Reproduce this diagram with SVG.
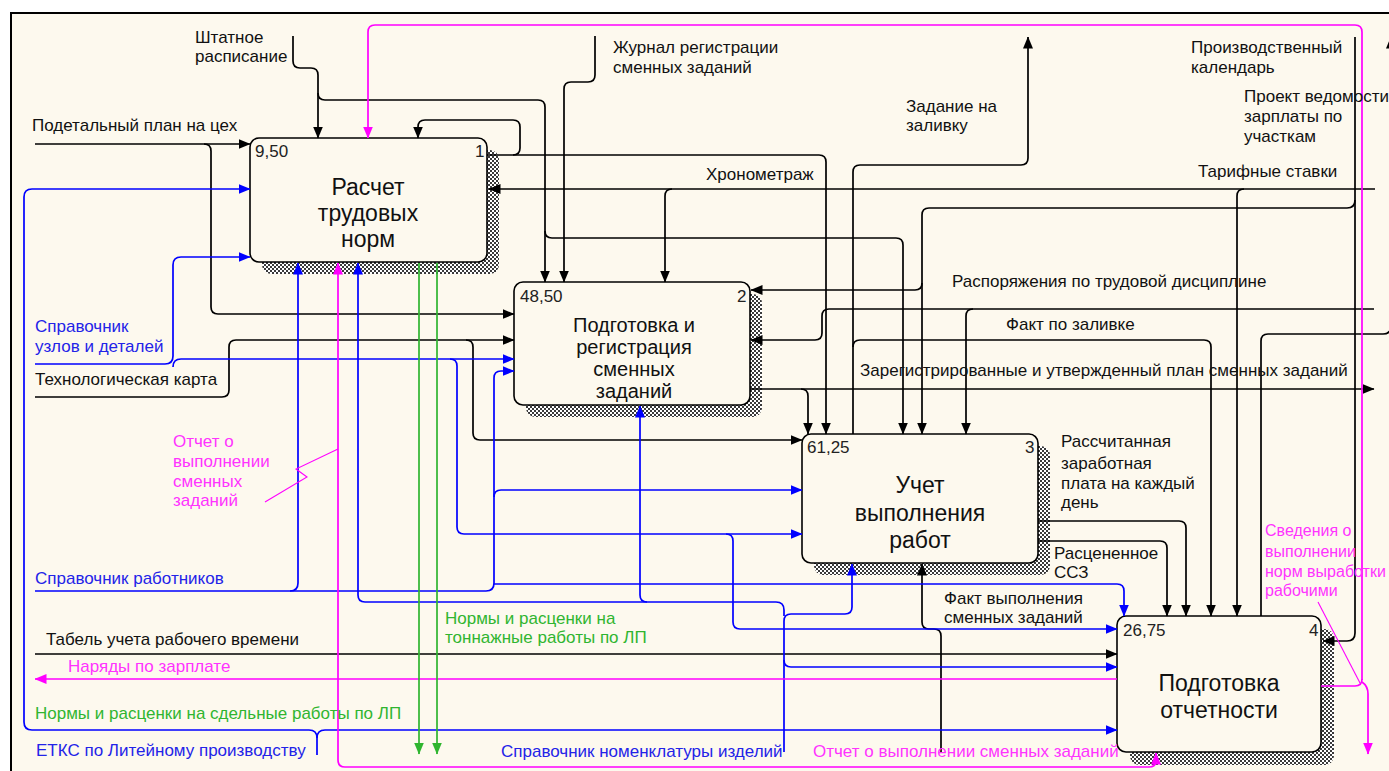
<svg xmlns="http://www.w3.org/2000/svg" width="1389" height="771" viewBox="0 0 1389 771">
<defs>
<pattern id="hatch" width="4" height="4" patternUnits="userSpaceOnUse">
<rect width="4" height="4" fill="#ffffff"/>
<rect x="0" y="0" width="2" height="2" fill="#3a3a3a"/>
<rect x="2" y="2" width="2" height="2" fill="#3a3a3a"/>
</pattern>
<marker id="ak" markerUnits="userSpaceOnUse" markerWidth="12" markerHeight="10" viewBox="0 0 12 10" refX="11.5" refY="5" orient="auto"><polygon points="0,0 12,5 0,10" style="fill:#000;stroke:none"/></marker>
<marker id="ab" markerUnits="userSpaceOnUse" markerWidth="12" markerHeight="10" viewBox="0 0 12 10" refX="11.5" refY="5" orient="auto"><polygon points="0,0 12,5 0,10" style="fill:#0000ff;stroke:none"/></marker>
<marker id="ap" markerUnits="userSpaceOnUse" markerWidth="12" markerHeight="10" viewBox="0 0 12 10" refX="11.5" refY="5" orient="auto"><polygon points="0,0 12,5 0,10" style="fill:#ff00ff;stroke:none"/></marker>
<marker id="ag" markerUnits="userSpaceOnUse" markerWidth="12" markerHeight="10" viewBox="0 0 12 10" refX="11.5" refY="5" orient="auto"><polygon points="0,0 12,5 0,10" style="fill:#2fb52f;stroke:none"/></marker>
</defs>
<style>
text{font-family:"Liberation Sans",Arial,sans-serif;}
.t{font-size:17px;fill:#111;}
.tb{font-size:17px;fill:#2323e8;}
.tp{font-size:17px;fill:#ff33ff;}
.tps{font-size:16px;fill:#ff33ff;}
.tg{font-size:17px;fill:#30b530;}
.num{font-size:17px;fill:#222;}
.ttl{font-size:23px;fill:#111;text-anchor:middle;}
.ttl2{font-size:20px;fill:#111;text-anchor:middle;}
.box{fill:#fdf9ee;stroke:#000;stroke-width:1.6;}
.sh{fill:url(#hatch);}
.k,.b,.p,.g{fill:none;stroke-width:1.7;}
.k{stroke:#000;}
.b{stroke:#0000ff;}
.p{stroke:#ff00ff;}
.g{stroke:#2fb52f;}
.k.a{marker-end:url(#ak);}
.b.a{marker-end:url(#ab);}
.p.a{marker-end:url(#ap);}
.g.a{marker-end:url(#ag);}
.thin{stroke-width:1.1;}
</style>
<rect x="0" y="0" width="1389" height="771" fill="#ffffff"/>
<rect x="11" y="13" width="1378" height="758" fill="#fdf9ee"/>
<path d="M11 771 V13 H1389" fill="none" stroke="#000" stroke-width="2"/>

<g id="node1">
<rect class="sh" x="262" y="150" width="237" height="124" rx="9"/>
<rect class="box" x="250" y="138" width="237" height="124" rx="9"/>
<text class="num" x="255" y="157">9,50</text>
<text class="num" x="475" y="157">1</text>
<text class="ttl" x="368" y="195">Расчет</text>
<text class="ttl" x="368" y="221">трудовых</text>
<text class="ttl" x="368" y="247">норм</text>
</g>
<g id="node2">
<rect class="sh" x="526" y="294" width="236" height="123" rx="9"/>
<rect class="box" x="514" y="282" width="236" height="123" rx="9"/>
<text class="num" x="520" y="302">48,50</text>
<text class="num" x="737" y="302">2</text>
<text class="ttl2" x="634" y="332">Подготовка и</text>
<text class="ttl2" x="634" y="354">регистрация</text>
<text class="ttl2" x="634" y="376">сменных</text>
<text class="ttl2" x="634" y="398">заданий</text>
</g>
<g id="node3">
<rect class="sh" x="814" y="446" width="236" height="129" rx="9"/>
<rect class="box" x="802" y="434" width="236" height="129" rx="9"/>
<text class="num" x="807" y="453">61,25</text>
<text class="num" x="1025" y="453">3</text>
<text class="ttl" x="920" y="493">Учет</text>
<text class="ttl" x="920" y="521">выполнения</text>
<text class="ttl" x="920" y="548">работ</text>
</g>
<g id="node4">
<rect class="sh" x="1130" y="629" width="204" height="136" rx="9"/>
<rect class="box" x="1117" y="616" width="204" height="136" rx="9"/>
<text class="num" x="1123" y="636">26,75</text>
<text class="num" x="1309" y="636">4</text>
<text class="ttl" x="1219" y="691">Подготовка</text>
<text class="ttl" x="1219" y="718">отчетности</text>
</g>

<g id="connectors">
<path class="k a" d="M35 144 H250"/>
<path class="k a" d="M204 144 Q211 144 211 151 V307 Q211 314 218 314 H514"/>
<path class="k a" d="M35 397 H222 Q229 397 229 390 V347 Q229 340 236 340 H514"/>
<path class="k a" d="M466 340 Q473 340 473 347 V433 Q473 440 480 440 H802"/>
<path class="k a" d="M293 36 V61 Q293 68 300 68 H311 Q318 68 318 75 V138"/>
<path class="k a" d="M318 93 Q318 100 325 100 H538 Q545 100 545 107 V282"/>
<path class="k a" d="M545 231 Q545 238 552 238 H896 Q903 238 903 245 V434"/>
<path class="k a" d="M595 36 V75 Q595 82 588 82 H571 Q564 82 564 89 V282"/>
<path class="k a" d="M487 155 H819 Q826 155 826 162 V434"/>
<path class="k a" d="M513 155 Q520 155 520 148 V127 Q520 120 513 120 H425 Q418 120 418 127 V138"/>
<path class="k a" d="M1375 189 H489"/>
<path class="k a" d="M672 189 Q665 189 665 196 V282"/>
<path class="k a" d="M1244 189 Q1237 189 1237 196 V616"/>
<path class="k a" d="M1355 37 V633 Q1355 641 1347 641 H1323"/>
<path class="k a" d="M1355 200 Q1355 208 1347 208 H929 Q922 208 922 215 V434"/>
<path class="k a" d="M922 283 Q922 290 915 290 H751"/>
<path class="k a" d="M1374 309 H829 Q822 309 822 316 V333 Q822 340 815 340 H751"/>
<path class="k a" d="M973 309 Q966 309 966 316 V434"/>
<path class="k a" d="M750 389 H1374"/>
<path class="k a" d="M801 389 Q808 389 808 396 V434"/>
<path class="k a" d="M853 434 V172 Q853 165 860 165 H1021 Q1028 165 1028 158 V37"/>
<path class="k a" d="M853 347 Q853 340 860 340 H1204 Q1211 340 1211 347 V616"/>
<path class="k a" d="M1038 521 H1179 Q1186 521 1186 528 V616"/>
<path class="k a" d="M1038 541 H1160 Q1167 541 1167 548 V616"/>
<path class="k a" d="M1261 616 V341 Q1261 334 1268 334 H1383 Q1391 334 1391 326 V37"/>
<path class="k a" d="M941 752 V636 Q941 629 934 629 H929 Q922 629 922 622 V564"/>
<path class="k a" d="M35 654 H1117"/>

<path class="b a" d="M317 755 V738 Q317 730 309 730 H32 Q24 730 24 722 V197 Q24 189 32 189 H250"/>
<path class="b a" d="M317 738 Q317 730 325 730 H1117"/>
<path class="b a" d="M35 364 H165 Q173 364 173 356 V265 Q173 257 181 257 H250"/>
<path class="b a" d="M173 367 Q173 359 181 359 H514"/>
<path class="b a" d="M450 359 Q457 359 457 366 V527 Q457 534 464 534 H802"/>
<path class="b a" d="M726 534 Q733 534 733 541 V622 Q733 629 740 629 H1117"/>
<path class="b a" d="M35 591 H290 Q298 591 298 583 V263"/>
<path class="b a" d="M290 591 H486 Q494 591 494 583 V378 Q494 371 501 371 H514"/>
<path class="b a" d="M494 497 Q494 490 501 490 H802"/>
<path class="b a" d="M494 584 H1117 Q1124 584 1124 591 V616"/>
<path class="b a" d="M784 752 V621 Q784 614 791 614 H845 Q852 614 852 607 V564"/>
<path class="b a" d="M784 616 V610 Q784 602 776 602 H365 Q358 602 358 595 V263"/>
<path class="b a" d="M647 602 Q640 602 640 595 V406"/>
<path class="b a" d="M784 660 Q784 667 791 667 H1117"/>

<path class="p a" d="M1362 680 V32 Q1362 25 1355 25 H375 Q368 25 368 32 V138"/>
<path class="p" d="M1321 686 H1355 Q1362 686 1362 679"/>
<path class="p a" d="M1362 682 Q1368 686 1368 694 V754"/>
<path class="p a" d="M1117 679 H35"/>
<path class="p a" d="M700 767 H345 Q338 767 338 760 V263"/>
<path class="p a" d="M700 767 H1149 Q1156 767 1156 760 V753"/>
<polyline class="p thin" points="338,449 296,469 307,477 265,502"/>
<path class="p thin" d="M1318 602 L1360 683"/>

<path class="g a" d="M419 263 V754"/>
<path class="g a" d="M437 263 V754"/>

<g id="labels">
<text class="t" x="195" y="43">Штатное</text>
<text class="t" x="195" y="62">расписание</text>
<text class="t" x="32" y="131">Подетальный план на цех</text>
<text class="t" x="613" y="53">Журнал регистрации</text>
<text class="t" x="613" y="73">сменных заданий</text>
<text class="t" x="906" y="112">Задание на</text>
<text class="t" x="906" y="131">заливку</text>
<text class="t" x="1191" y="53">Производственный</text>
<text class="t" x="1191" y="73">календарь</text>
<text class="t" x="1244" y="102">Проект ведомости</text>
<text class="t" x="1244" y="122">зарплаты по</text>
<text class="t" x="1244" y="142">участкам</text>
<text class="t" x="1198" y="177">Тарифные ставки</text>
<text class="t" x="706" y="180">Хронометраж</text>
<text class="t" x="35" y="385">Технологическая карта</text>
<text class="t" x="952" y="287">Распоряжения по трудовой дисциплине</text>
<text class="t" x="1006" y="330">Факт по заливке</text>
<text class="t" x="860" y="376">Зарегистрированные и утвержденный план сменных заданий</text>
<text class="t" x="1061" y="447">Рассчитанная</text>
<text class="t" x="1061" y="469">заработная</text>
<text class="t" x="1061" y="489">плата на каждый</text>
<text class="t" x="1061" y="508">день</text>
<text class="t" x="1054" y="559">Расцененное</text>
<text class="t" x="1054" y="578">ССЗ</text>
<text class="t" x="944" y="604">Факт выполнения</text>
<text class="t" x="944" y="623">сменных заданий</text>
<text class="t" x="46" y="645">Табель учета рабочего времени</text>
<text class="tb" x="35" y="332">Справочник</text>
<text class="tb" x="35" y="352">узлов и деталей</text>
<text class="tb" x="35" y="584">Справочник работников</text>
<text class="tb" x="36" y="756">ЕТКС по Литейному производству</text>
<text class="tb" x="501" y="757">Справочник номенклатуры изделий</text>
<text class="tp" x="173" y="447">Отчет о</text>
<text class="tp" x="173" y="467">выполнении</text>
<text class="tp" x="173" y="487">сменных</text>
<text class="tp" x="173" y="506">заданий</text>
<text class="tp" x="68" y="672">Наряды по зарплате</text>
<text class="tp" x="813" y="757">Отчет о выполнении сменных заданий</text>
<text class="tps" x="1265" y="536">Сведения о</text>
<text class="tps" x="1265" y="557">выполнении</text>
<text class="tps" x="1265" y="577">норм выработки</text>
<text class="tps" x="1265" y="596">рабочими</text>
<text class="tg" x="445" y="624">Нормы и расценки на</text>
<text class="tg" x="445" y="643">тоннажные работы по ЛП</text>
<text class="tg" x="35" y="719">Нормы и расценки на сдельные работы по ЛП</text>
</g>
</g>
</svg>
